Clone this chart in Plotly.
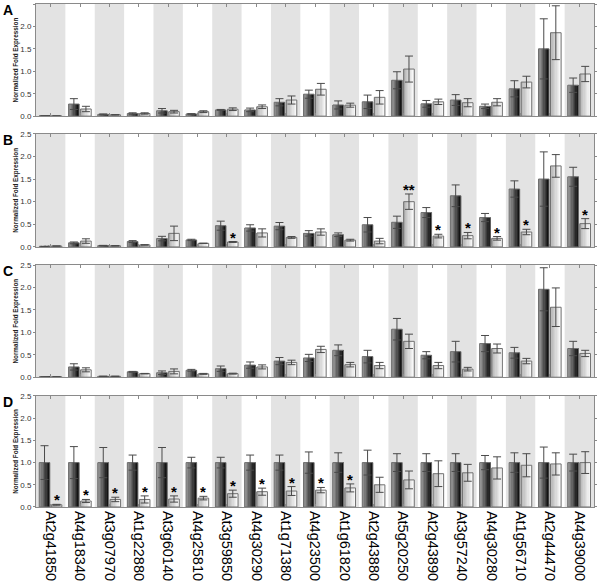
import plotly.graph_objects as go

genes = ["At2g41850", "At4g18340", "At3g07970", "At1g22880", "At3g60140", "At4g25810",
         "At3g59850", "At4g30290", "At1g71380", "At4g23500", "At1g61820", "At2g43880",
         "At5g20250", "At2g43890", "At3g57240", "At4g30280", "At1g56710", "At2g44470",
         "At4g39000"]

A_dark = [0.005, 0.27, 0.04, 0.06, 0.12, 0.05, 0.14, 0.14, 0.31, 0.49, 0.25, 0.32, 0.80, 0.275, 0.36, 0.22, 0.61, 1.50, 0.69]
A_dark_err = [0.0, 0.12, 0.01, 0.015, 0.05, 0.005, 0.01, 0.04, 0.08, 0.09, 0.09, 0.15, 0.19, 0.075, 0.12, 0.05, 0.18, 0.67, 0.16]
A_light = [0.005, 0.16, 0.03, 0.06, 0.10, 0.10, 0.155, 0.21, 0.36, 0.60, 0.245, 0.42, 1.05, 0.32, 0.30, 0.31, 0.76, 1.86, 0.94]
A_light_err = [0.0, 0.06, 0.005, 0.015, 0.03, 0.02, 0.03, 0.04, 0.09, 0.13, 0.045, 0.15, 0.29, 0.06, 0.09, 0.08, 0.13, 0.60, 0.17]

B_dark = [0.005, 0.09, 0.03, 0.12, 0.185, 0.155, 0.47, 0.42, 0.46, 0.30, 0.27, 0.49, 0.545, 0.76, 1.13, 0.65, 1.28, 1.50, 1.55]
B_dark_err = [0.0, 0.02, 0.005, 0.02, 0.05, 0.015, 0.10, 0.07, 0.08, 0.06, 0.04, 0.16, 0.135, 0.11, 0.24, 0.09, 0.18, 0.60, 0.21]
B_light = [0.02, 0.13, 0.025, 0.045, 0.30, 0.08, 0.11, 0.31, 0.21, 0.33, 0.15, 0.13, 1.00, 0.24, 0.25, 0.19, 0.33, 1.79, 0.515]
B_light_err = [0.0, 0.05, 0.005, 0.005, 0.16, 0.0, 0.01, 0.09, 0.02, 0.07, 0.02, 0.06, 0.17, 0.04, 0.07, 0.04, 0.06, 0.25, 0.11]
B_stars = {6: "*", 12: "**", 13: "*", 14: "*", 15: "*", 16: "*", 18: "*"}

C_dark = [0.005, 0.23, 0.02, 0.12, 0.10, 0.155, 0.19, 0.27, 0.36, 0.43, 0.60, 0.46, 1.07, 0.49, 0.57, 0.75, 0.545, 1.96, 0.64]
C_dark_err = [0.0, 0.07, 0.005, 0.01, 0.04, 0.02, 0.06, 0.07, 0.08, 0.08, 0.12, 0.14, 0.24, 0.08, 0.23, 0.18, 0.12, 0.48, 0.16]
C_light = [0.01, 0.165, 0.02, 0.08, 0.13, 0.075, 0.08, 0.23, 0.33, 0.62, 0.28, 0.26, 0.80, 0.26, 0.18, 0.64, 0.36, 1.56, 0.53]
C_light_err = [0.0, 0.045, 0.005, 0.005, 0.055, 0.01, 0.01, 0.045, 0.05, 0.07, 0.05, 0.07, 0.16, 0.07, 0.04, 0.10, 0.06, 0.43, 0.07]

D_dark = [1.0] * 19
D_dark_err = [0.38, 0.36, 0.34, 0.17, 0.34, 0.12, 0.12, 0.17, 0.17, 0.24, 0.22, 0.28, 0.20, 0.20, 0.20, 0.16, 0.22, 0.35, 0.19]
D_light = [0.05, 0.135, 0.17, 0.17, 0.18, 0.20, 0.30, 0.345, 0.36, 0.38, 0.43, 0.50, 0.61, 0.75, 0.77, 0.88, 0.94, 0.97, 1.00]
D_light_err = [0.01, 0.035, 0.05, 0.08, 0.07, 0.04, 0.08, 0.08, 0.10, 0.06, 0.09, 0.17, 0.20, 0.29, 0.19, 0.25, 0.26, 0.25, 0.245]
D_stars = {i: "*" for i in range(11)}

panels = [
    ("A", A_dark, A_dark_err, A_light, A_light_err, {}),
    ("B", B_dark, B_dark_err, B_light, B_light_err, B_stars),
    ("C", C_dark, C_dark_err, C_light, C_light_err, {}),
    ("D", D_dark, D_dark_err, D_light, D_light_err, D_stars),
]
domains = [[0.777, 1.0], [0.517, 0.742], [0.258, 0.481], [0.0, 0.2207]]

idx = list(range(len(genes)))
N = 8
W = 0.36
DARK_OFF = -0.39
LIGHT_OFF = 0.02


def hexrgb(h):
    h = h.lstrip("#")
    return tuple(int(h[i:i + 2], 16) for i in (0, 2, 4))


def blend(c1, c2, t):
    a, b = hexrgb(c1), hexrgb(c2)
    return "rgb(%d,%d,%d)" % tuple(round(a[i] + (b[i] - a[i]) * t) for i in range(3))


fig = go.Figure()
shapes = []
annotations = []
font_main = "Liberation Sans, Arial, sans-serif"

for p, (letter, dv, de, lv, le, stars) in enumerate(panels):
    xa = "x" if p == 0 else f"x{p + 1}"
    ya = "y" if p == 0 else f"y{p + 1}"
    series = [
        (dv, de, DARK_OFF, "#a0a0a0", "#141414"),
        (lv, le, LIGHT_OFF, "#b4b4b4", "#f7f7f7"),
    ]
    for vals, errs, off, c0, c1 in series:
        for k in range(N):
            fig.add_trace(go.Bar(
                x=idx, y=vals, width=W / N, offset=off + k * W / N,
                marker=dict(color=blend(c0, c1, k / (N - 1)), line=dict(width=0)),
                xaxis=xa, yaxis=ya, showlegend=False, hoverinfo="skip"))
        fig.add_trace(go.Bar(
            x=idx, y=vals, width=W, offset=off,
            marker=dict(color="rgba(0,0,0,0)", line=dict(color="#707070", width=1)),
            error_y=dict(type="data", array=errs, visible=True, color="#4a4a4a",
                         thickness=1, width=4),
            xaxis=xa, yaxis=ya, showlegend=False, hoverinfo="skip"))
    for i in range(0, len(genes), 2):
        shapes.append(dict(type="rect", xref=xa, yref=f"{ya} domain",
                           x0=i - 0.5, x1=i + 0.5, y0=0, y1=1,
                           fillcolor="#e3e3e3", line=dict(width=0), layer="below"))
    for i, s in stars.items():
        annotations.append(dict(xref=xa, yref=ya, x=i + LIGHT_OFF + W / 2,
                                y=lv[i] + le[i], text=f"<b>{s}</b>", showarrow=False,
                                yanchor="bottom", yshift=-6,
                                font=dict(size=15, color="black", family=font_main)))
    annotations.append(dict(xref="paper", yref="paper", x=-0.062, y=domains[p][1],
                            xanchor="left", yanchor="top", yshift=4, text=f"<b>{letter}</b>",
                            showarrow=False, font=dict(size=14, color="black", family=font_main)))

    xkey = "xaxis" if p == 0 else f"xaxis{p + 1}"
    ykey = "yaxis" if p == 0 else f"yaxis{p + 1}"
    fig.update_layout(**{
        xkey: dict(domain=[0, 1], anchor=ya, range=[-0.5, len(genes) - 0.5],
                   tickvals=idx, ticktext=genes, showticklabels=(p == 3),
                   tickangle=90, tickfont=dict(size=14.5, color="black", family=font_main),
                   ticks="inside", ticklen=3, tickcolor="#8a8a8a", mirror="ticks",
                   showline=True, linecolor="#8a8a8a", linewidth=1, automargin=False,
                   showgrid=False, zeroline=False, fixedrange=True),
        ykey: dict(domain=domains[p], anchor=xa, range=[0, 2.5], dtick=0.5,
                   tickformat=".1f", tickfont=dict(size=8, color="#333333", family=font_main),
                   ticks="outside", ticklen=2, tickcolor="#8a8a8a", mirror="ticks",
                   showline=True, linecolor="#8a8a8a", linewidth=1, automargin=False,
                   showgrid=False, zeroline=False, fixedrange=True,
                   title=dict(text="<b>Normalized Fold Expression</b>", standoff=1,
                              font=dict(size=6.3, color="#222222", family=font_main))),
    })

fig.update_layout(
    width=600, height=587,
    margin=dict(l=36, r=6, t=4, b=80),
    barmode="overlay",
    plot_bgcolor="white", paper_bgcolor="white",
    shapes=shapes, annotations=annotations,
    showlegend=False,
)

fig.write_html("out.html", config={"displayModeBar": False},
               post_script="document.body.style.margin='0';document.body.style.overflow='hidden';")
